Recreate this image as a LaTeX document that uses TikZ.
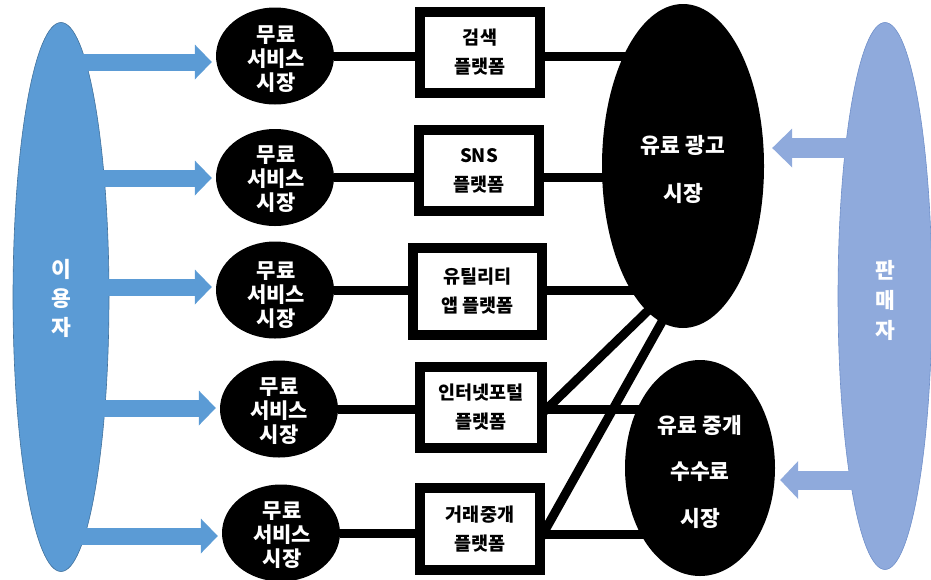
\documentclass[tikz,border=0pt]{standalone}
\usepackage{fontspec}
\setmainfont{Noto Sans CJK KR}
\usetikzlibrary{shapes.geometric,arrows.meta,calc}
\pgfdeclarelayer{background}
\pgfsetlayers{background,main}
\definecolor{userblue}{HTML}{5B9BD5}
\definecolor{useredge}{HTML}{41719C}
\definecolor{sellerblue}{HTML}{8FAADC}
\definecolor{selleredge}{HTML}{6F8FC9}
\begin{document}
\begin{tikzpicture}[x=1pt,y=-1pt,
  party/.style={ellipse, inner sep=0pt, line width=0.6pt},
  freemkt/.style={ellipse, fill=black, inner sep=0pt, minimum width=118pt, minimum height=97pt},
  paidmkt/.style={ellipse, fill=black, inner sep=0pt},
  platbox/.style={rectangle, draw=black, fill=white, line width=10pt, inner sep=0pt, align=center, font=\bfseries\fontsize{18.5}{29}\selectfont},
  wtxt/.style={text=white, align=center, inner sep=0pt, font=\bfseries\fontsize{21}{24}\selectfont},
  link/.style={line width=9pt, black},
  userarrow/.style={userblue, line width=17pt, -{Triangle[width=35pt,length=17pt,line width=0pt]}},
  sellarrow/.style={sellerblue, line width=20pt, -{Triangle[width=39pt,length=20pt,line width=0pt]}},
]
\useasboundingbox (0,0) rectangle (931,579);

% side parties
\node[party, fill=userblue, draw=useredge, minimum width=96pt, minimum height=549pt] (U) at (61,297) {};
\node[wtxt, font=\bfseries\fontsize{21.5}{29}\selectfont] (Ut) at (61,298) {이\\용\\자};
\node[party, fill=sellerblue, draw=selleredge, minimum width=94pt, minimum height=547pt] (S) at (885,296) {};
\node[wtxt, font=\bfseries\fontsize{21.5}{30}\selectfont] (St) at (885,300) {판\\매\\자};

% free service markets
\node[freemkt] (m1) at (275,56) {};
\node[freemkt] (m2) at (275,177.5) {};
\node[freemkt] (m3) at (275,290) {};
\node[freemkt] (m4) at (279,409) {};
\node[freemkt] (m5) at (281,533) {};
\node[wtxt] (m1t) at (276,59) {무료\\서비스\\시장};
\node[wtxt] (m2t) at (276,179) {무료\\서비스\\시장};
\node[wtxt] (m3t) at (276,295) {무료\\서비스\\시장};
\node[wtxt] (m4t) at (279,411) {무료\\서비스\\시장};
\node[wtxt] (m5t) at (282,535) {무료\\서비스\\시장};

% paid markets
\node[paidmkt, minimum width=162pt, minimum height=324pt] (A) at (683,166) {};
\node[wtxt, font=\bfseries\fontsize{21.5}{48}\selectfont] (At) at (683,169) {유료 광고\\시장};
\node[paidmkt, minimum width=150pt, minimum height=216pt] (B) at (700,468) {};
\node[wtxt, font=\bfseries\fontsize{21.5}{46.5}\selectfont] (Bt) at (700,471.5) {유료 중개\\수수료\\시장};

% platforms
\node[platbox, minimum width=120pt, minimum height=81pt] (b1) at (480,52.5) {검색\\플랫폼};
\node[platbox, minimum width=120pt, minimum height=81pt] (b2) at (479,170.5) {SNS\\플랫폼};
\node[platbox, minimum width=129pt, minimum height=87pt] (b3) at (477.5,291.5) {유틸리티\\앱 플랫폼};
\node[platbox, minimum width=122pt, minimum height=81pt] (b4) at (481,407.5) {인터넷포털\\플랫폼};
\node[platbox, minimum width=120pt, minimum height=82pt] (b5) at (480,529) {거래중개\\플랫폼};

% connectors
\begin{pgfonlayer}{background}
\draw[link] (m1) -- (m1 -| b1.west);
\draw[link] (m1 -| b1.east) -- (m1 -| A);
\draw[link] (m2) -- (m2 -| b2.west);
\draw[link] (m2 -| b2.east) -- (m2 -| A);
\draw[link] (m3) -- (m3 -| b3.west);
\draw[link] (m3 -| b3.east) -- (m3 -| A);
\draw[link] (m4) -- (m4 -| b4.west);
\draw[link] (m4 -| b4.east) -- (m4 -| B);
\draw[link] (m5) -- (m5 -| b5.west);
\draw[link] ($(b5.east)+(0,5)$) -- ($(b5.center -| B.center)+(0,5)$);
\draw[link] ($(b4.east)+(-6,7)$) -- ($(A.center)+(-23,133)$);
\draw[link] ($(b5.east)+(-6,12)$) -- ($(A.center)+(-15,145)$);
\end{pgfonlayer}

% user arrows
\coordinate (ua1) at (76,62);
\coordinate (ua2) at (95,178);
\coordinate (ua3) at (105,287);
\coordinate (ua4) at (98,408);
\coordinate (ua5) at (72,536);
\draw[userarrow] (ua1) -- ($(ua1 -| m1.west)+(-4,0)$);
\draw[userarrow] (ua2) -- ($(ua2 -| m2.west)+(-4,0)$);
\draw[userarrow] (ua3) -- ($(ua3 -| m3.west)+(-4,0)$);
\draw[userarrow] (ua4) -- ($(ua4 -| m4.west)+(-4,0)$);
\draw[userarrow] (ua5) -- ($(ua5 -| m5.west)+(-4,0)$);

% seller arrows
\coordinate (sa1) at (860,148);
\coordinate (sa2) at (860,480);
\draw[sellarrow] (sa1) -- ($(sa1 -| A.east)+(8,0)$);
\draw[sellarrow, line width=19pt, -{Triangle[width=38pt,length=18pt,line width=0pt]}] (sa2) -- ($(sa2 -| B.east)+(5,0)$);
\end{tikzpicture}
\end{document}
